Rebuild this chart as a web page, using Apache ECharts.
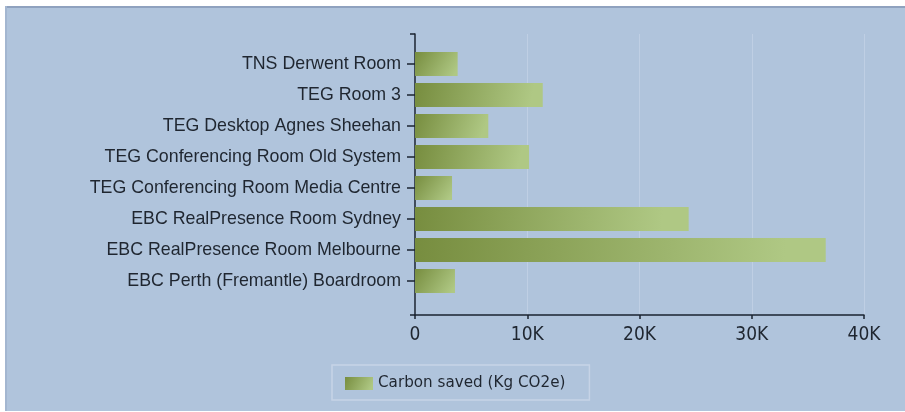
<!DOCTYPE html>
<html>
<head>
<meta charset="utf-8">
<script src="https://cdn.jsdelivr.net/npm/echarts@6/dist/echarts.min.js"></script>
<style>
  html, body { margin: 0; padding: 0; background: #ffffff; }
  #chart { width: 905px; height: 412px; }
</style>
</head>
<body>
<div id="chart"></div>
<script>
var dom = document.getElementById("chart");
var myChart = echarts.init(dom);

// data
var rooms = [
    'TNS Derwent Room',
    'TEG Room 3',
    'TEG Desktop Agnes Sheehan',
    'TEG Conferencing Room Old System',
    'TEG Conferencing Room Media Centre',
    'EBC RealPresence Room Sydney',
    'EBC RealPresence Room Melbourne',
    'EBC Perth (Fremantle) Boardroom'
];
var carbonSaved = [3800, 11380, 6530, 10160, 3300, 24380, 36590, 3560];
var seriesName = 'Carbon saved (Kg CO2e)';
var xMax = 40000;
var xStep = 10000;

var barFill = new echarts.graphic.LinearGradient(0, 0, 0.9, 1, [
    { offset: 0, color: '#778d3f' },
    { offset: 1, color: '#afc884' }
]);

var option = {
    backgroundColor: '#ffffff',
    animation: false,
    graphic: [
        { type: 'rect', shape: { x: 5, y: 6, width: 900, height: 405 }, style: { fill: '#b0c4dc' }, z: -10 },
        { type: 'rect', shape: { x: 5, y: 6, width: 900, height: 2 }, style: { fill: '#8fa2bf' }, z: -9 },
        { type: 'rect', shape: { x: 5, y: 6, width: 2, height: 405 }, style: { fill: '#a3b6d0' }, z: -9 }
    ],
    legend: {
        left: 332,
        top: 365,
        padding: [11, 24, 9, 13],
        borderColor: '#c6d3e6',
        borderWidth: 1.5,
        itemWidth: 28,
        itemHeight: 13,
        itemGap: 8,
        textStyle: { fontFamily: 'DejaVu Sans', fontSize: 15.2, color: '#1f2630' },
        data: [{ name: seriesName, icon: 'rect' }]
    },
    grid: [
        { left: 415, right: 41, top: 34, bottom: 97 },
        { left: 415, right: 41, top: 48.5, bottom: 115.5 }
    ],
    xAxis: [
        {
            type: 'value',
            gridIndex: 0,
            min: 0,
            max: xMax,
            interval: xStep,
            axisLine: { show: true, lineStyle: { color: '#1a2330', width: 1.5 } },
            axisTick: { show: true, length: 4, lineStyle: { color: '#1a2330', width: 1.5 } },
            axisLabel: {
                margin: 11,
                color: '#1f2630',
                fontFamily: 'Liberation Sans Narrow, DejaVu Sans Condensed, sans-serif',
                fontSize: 19,
                formatter: function (v) { return v === 0 ? '0' : (v / 1000) + 'K'; }
            },
            splitLine: { show: true, lineStyle: { color: '#bfcfe4', width: 1 } }
        },
        {
            type: 'value',
            gridIndex: 1,
            min: 0,
            max: xMax,
            show: false
        }
    ],
    yAxis: [
        {
            type: 'value',
            gridIndex: 0,
            min: 0,
            max: 1,
            interval: 1,
            axisLine: { show: true, lineStyle: { color: '#1a2330', width: 1.5 } },
            axisTick: { show: true, length: 5, lineStyle: { color: '#1a2330', width: 1.5 } },
            axisLabel: { show: false },
            splitLine: { show: false }
        },
        {
            type: 'category',
            gridIndex: 1,
            inverse: true,
            data: rooms,
            axisLine: { show: false },
            axisTick: { show: true, alignWithLabel: true, length: 8, lineStyle: { color: '#1a2330', width: 1.5 } },
            axisLabel: {
                margin: 14,
                color: '#1f2630',
                fontFamily: 'Liberation Sans, Arial, sans-serif',
                fontSize: 17.8
            }
        }
    ],
    series: [{
        name: seriesName,
        type: 'bar',
        xAxisIndex: 1,
        yAxisIndex: 1,
        data: carbonSaved,
        barWidth: 24,
        itemStyle: { color: barFill }
    }]
};

if (option && typeof option === 'object') {
    myChart.setOption(option);
}
</script>
</body>
</html>
